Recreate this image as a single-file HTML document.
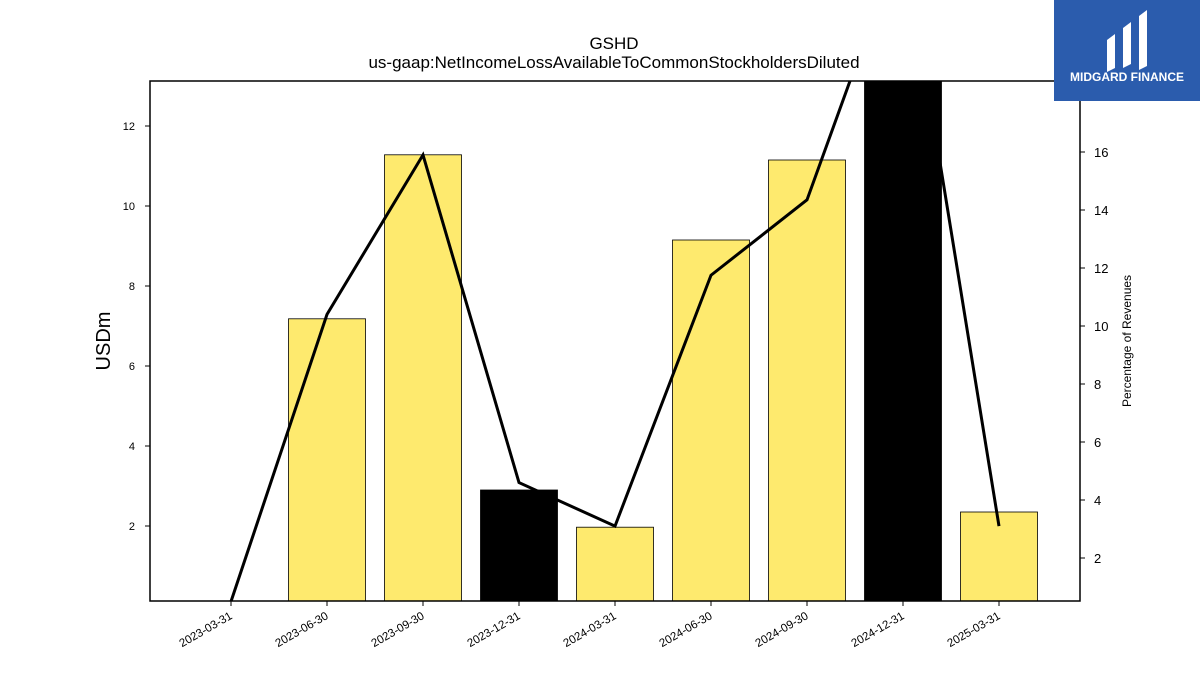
<!DOCTYPE html>
<html><head><meta charset="utf-8"><style>
body{margin:0;background:#fff;}
svg text{font-family:"Liberation Sans","DejaVu Sans",sans-serif;}
</style></head><body>
<svg id="chart" width="1200" height="675" viewBox="0 0 1200 675" xmlns="http://www.w3.org/2000/svg">
<text x="614" y="49" text-anchor="middle" font-size="17">GSHD</text>
<text x="614" y="68" text-anchor="middle" font-size="17">us-gaap:NetIncomeLossAvailableToCommonStockholdersDiluted</text>
<defs><clipPath id="plotclip"><rect x="150" y="81" width="930" height="520"/></clipPath></defs>
<g id="bars" clip-path="url(#plotclip)"></g>
<g id="line" clip-path="url(#plotclip)"></g>
<rect x="150" y="81" width="930" height="520" fill="none" stroke="#000" stroke-width="1.5"/>
<g id="axes"></g>
<text x="110" y="341" text-anchor="middle" font-size="20" transform="rotate(-90 110 341)">USDm</text>
<text x="1131" y="341" text-anchor="middle" font-size="12" transform="rotate(-90 1131 341)">Percentage of Revenues</text>
<g>
<rect x="1054" y="0" width="146" height="101" fill="#2b5cad"/>
<path d="M1107 40 L1115 34 L1115 68 L1107 72 Z M1123 28 L1131 22 L1131 64 L1123 68 Z M1139 16 L1147 10 L1147 66 L1139 70 Z" fill="#fff"/>
<text x="1127" y="81" text-anchor="middle" font-size="12" font-weight="bold" fill="#fff">MIDGARD FINANCE</text>
</g>
</svg>
<script>
const categories=["2023-03-31","2023-06-30","2023-09-30","2023-12-31","2024-03-31","2024-06-30","2024-09-30","2024-12-31","2025-03-31"];
const barValues=[0,7.18,11.28,2.9,1.97,9.15,11.15,14,2.35];
const barNegative=[false,false,false,true,false,false,false,true,false];
const pctValues=[0.5,10.4,15.9,4.6,3.1,11.75,14.35,23.5,3.1];
const leftTicks=[2,4,6,8,10,12];
const rightTicks=[2,4,6,8,10,12,14,16];
const NS="http://www.w3.org/2000/svg";
const xS=i=>231+i*96;
const yL=v=>601-(v-0.125)/13*520;
const yR=v=>558-(v-2)*29;
function mk(tag,attrs,parent){const e=document.createElementNS(NS,tag);for(const k in attrs)e.setAttribute(k,attrs[k]);document.getElementById(parent).appendChild(e);return e;}
categories.forEach((c,i)=>{
 if(barValues[i]<=0)return;
 const y=yL(barValues[i]);
 const r=mk("rect",{x:xS(i)-38.5,y:y,width:77,height:601-y,fill:barNegative[i]?"#000":"#feea6e",stroke:"#000","stroke-width":0.8},"bars");
 
 
});
const pl=mk("polyline",{points:pctValues.map((v,i)=>xS(i)+","+yR(v)).join(" "),fill:"none",stroke:"#000","stroke-width":3},"line");


leftTicks.forEach(t=>{
 const y=yL(t);
 const l=mk("line",{x1:145,x2:150,y1:y,y2:y,stroke:"#000"},"axes");
 
 
 const tx=mk("text",{x:135,y:y+4,"text-anchor":"end","font-size":11},"axes");
 tx.textContent=t;
 
 
});
rightTicks.forEach(t=>{
 const y=yR(t);
 const l=mk("line",{x1:1080,x2:1085,y1:y,y2:y,stroke:"#000"},"axes");
 
 
 const tx=mk("text",{x:1094,y:y+5,"font-size":13},"axes");
 tx.textContent=t;
 
 
});
categories.forEach((c,i)=>{
 const x=xS(i);
 const l=mk("line",{x1:x,x2:x,y1:601,y2:606,stroke:"#000"},"axes");
 
 
 const tx=mk("text",{x:x+2,y:618,"text-anchor":"end","font-size":11.5,transform:`rotate(-30 ${x+2} 618)`},"axes");
 tx.textContent=c;
 
 
});
</script>
</body></html>
